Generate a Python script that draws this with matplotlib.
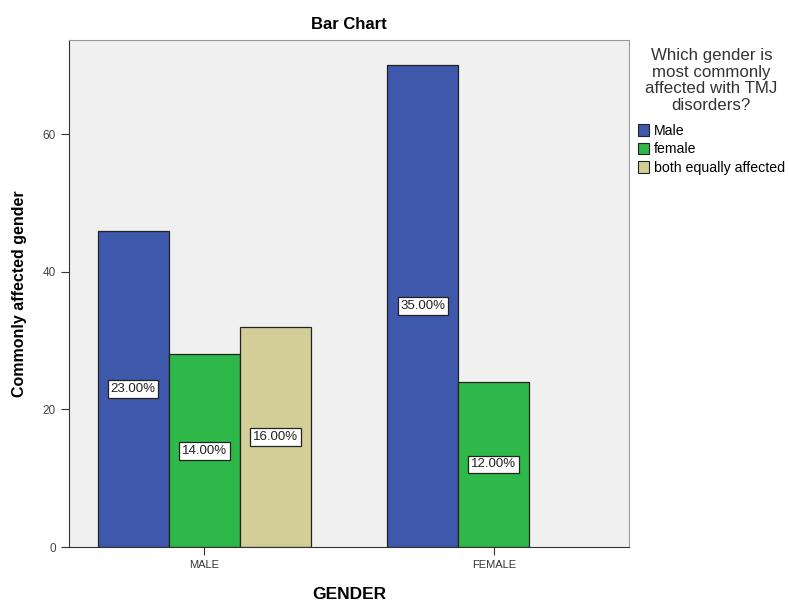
import matplotlib
matplotlib.use("Agg")
import matplotlib.pyplot as plt
import numpy as np
from matplotlib.patches import Patch

plt.rcParams['font.family'] = ['Liberation Sans', 'DejaVu Sans']

groups = ["MALE", "FEMALE"]
series = ["Male", "female", "both equally affected"]
counts = {
    "Male": [46, 70],
    "female": [28, 24],
    "both equally affected": [32, None],
}
percent_labels = {
    "Male": ["23.00%", "35.00%"],
    "female": ["14.00%", "12.00%"],
    "both equally affected": ["16.00%", None],
}
colors = {"Male": "#3e58ac", "female": "#2fb84a", "both equally affected": "#d3ce97"}

fig = plt.figure(figsize=(7.89, 6.01), dpi=100)
ax = fig.add_axes([0.0875, 0.0898, 0.7097, 0.8436])
ax.set_facecolor("#f0f0f0")

width = 0.245
x = np.arange(len(groups))
for i, s in enumerate(series):
    offset = (i - 1) * width
    for j, v in enumerate(counts[s]):
        if v is None:
            continue
        ax.bar(x[j] + offset, v, width, color=colors[s], edgecolor="#222222",
               linewidth=0.9, zorder=2)
        ax.text(x[j] + offset, v / 2, percent_labels[s][j], ha="center", va="center",
                fontsize=9.5, color="#222222", zorder=3,
                bbox=dict(boxstyle="square,pad=0.22", facecolor="white",
                          edgecolor="#222222", linewidth=0.9))

ax.set_xlim(-0.466, 1.466)
ax.set_ylim(0, 73.7)
ax.set_xticks(x)
ax.set_xticklabels(groups, fontsize=8, color="#333333")
ax.set_yticks([0, 20, 40, 60])
ax.tick_params(axis="y", labelsize=8.5, labelcolor="#444444", length=6, color="#333333")
ax.tick_params(axis="x", length=6, color="#333333")
for side in ["top", "right"]:
    ax.spines[side].set_color("#999999")
for side in ["left", "bottom"]:
    ax.spines[side].set_color("#333333")

ax.set_title("Bar Chart", fontsize=12, fontweight="bold", pad=8)
ax.set_ylabel("Commonly affected gender", fontsize=11.5, fontweight="bold", labelpad=11)
ax.set_xlabel("GENDER", fontsize=12.5, fontweight="bold", labelpad=12)

handles = [Patch(facecolor=colors[s], edgecolor="#222222", linewidth=0.8) for s in series]
leg = fig.legend(handles, series, loc="upper left", bbox_to_anchor=(0.801, 0.93),
                 frameon=False, fontsize=10.2,
                 title="Which gender is\nmost commonly\naffected with TMJ\ndisorders?",
                 title_fontsize=12.2, handlelength=0.8, handleheight=0.9,
                 handletextpad=0.35, labelspacing=0.3, borderaxespad=0)
leg.get_title().set_multialignment("center")
leg.get_title().set_color("#333333")
leg.get_title().set_linespacing(1.15)
leg._legend_box.sep = 8

fig.savefig("out.png", dpi=100)
